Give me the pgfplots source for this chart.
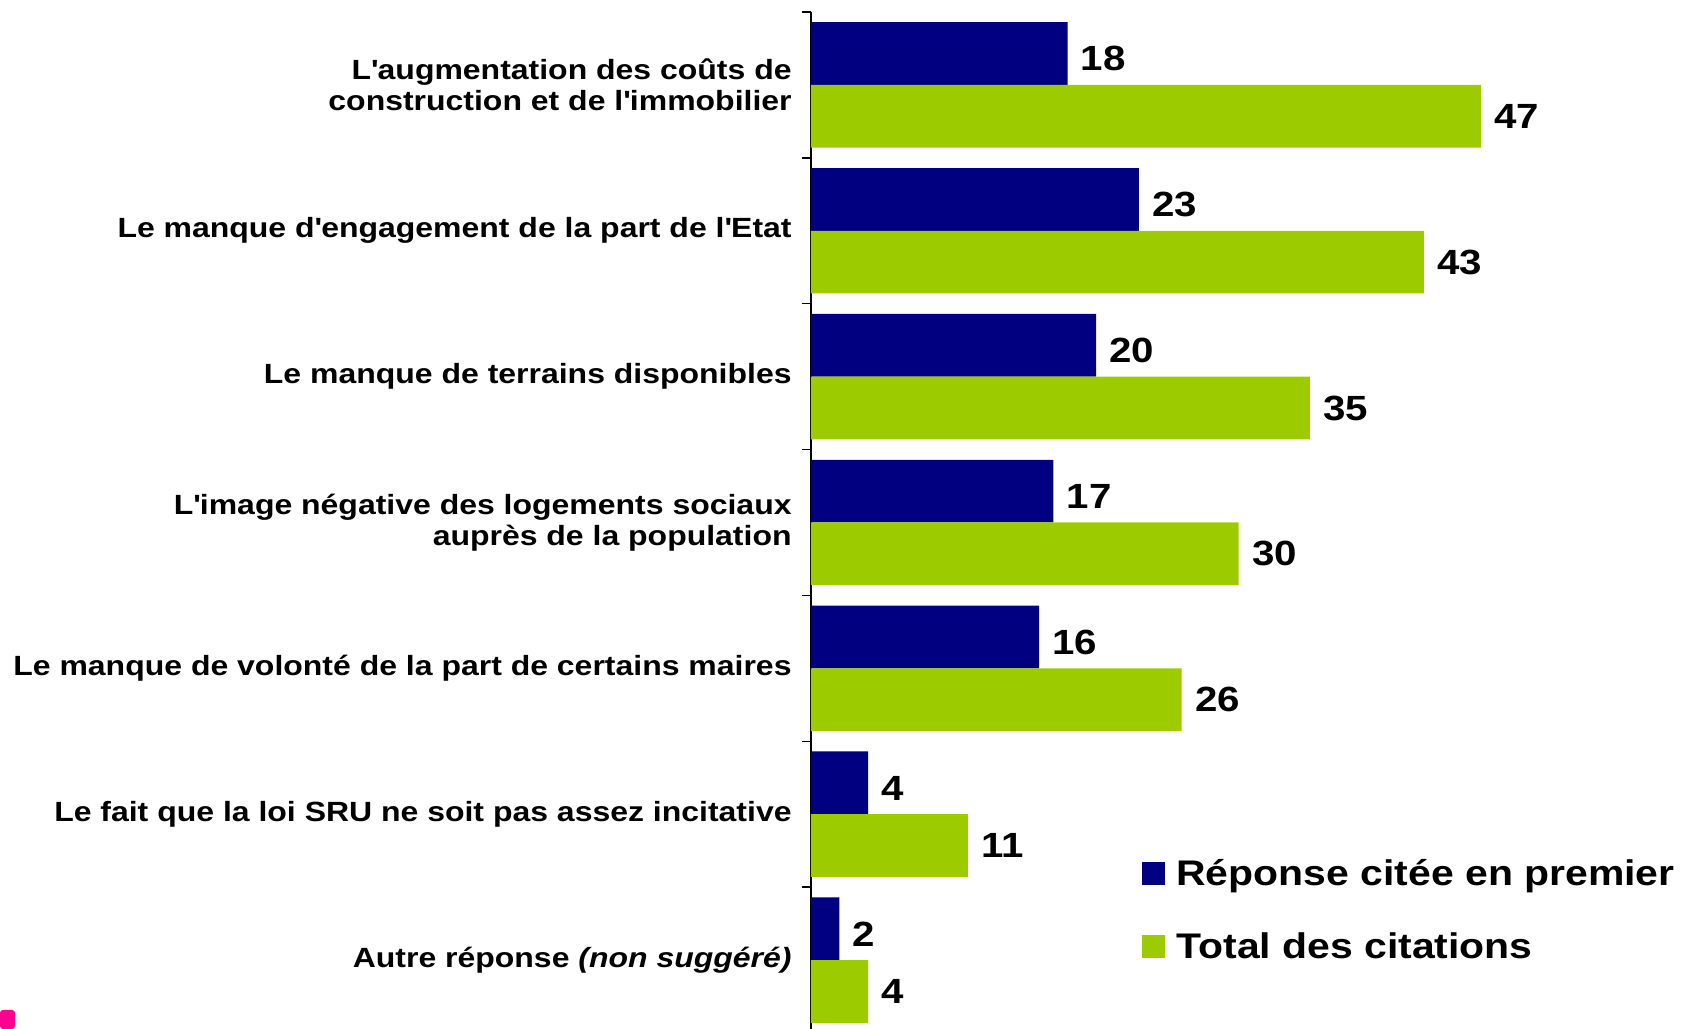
\documentclass[border=0pt]{standalone}
\usepackage{pgfplots}
\pgfplotsset{compat=1.18}
\usepackage{fontspec}
\setmainfont{Liberation Sans}[FakeStretch=1.15]
\definecolor{navy}{RGB}{0,0,128}
\definecolor{lime}{RGB}{156,204,0}
\definecolor{pinky}{RGB}{255,0,144}
\begin{document}
\begin{tikzpicture}
\begin{axis}[
  scale only axis,
  width=435.5pt, height=510.5pt,
  xmin=0, xmax=61.1,
  ymin=-0.5, ymax=6.5,
  y dir=reverse,
  axis x line=none,
  axis y line*=left,
  axis line style={line width=0.7pt, black},
  ytick={0,...,6},
  major tick length=0pt,
  minor ytick={-0.5,0.5,...,6.5},
  minor tick length=4.5pt,
  tick align=outside,
  minor tick style={line width=0.7pt, black},
  yticklabels={
    {L\textquotesingle augmentation des coûts de\\construction et de l\textquotesingle immobilier},
    {Le manque d\textquotesingle engagement de la part de l\textquotesingle Etat},
    {Le manque de terrains disponibles},
    {L\textquotesingle image négative des logements sociaux\\auprès de la population},
    {Le manque de volonté de la part de certains maires},
    {Le fait que la loi SRU ne soit pas assez incitative},
    {Autre réponse \textit{(non suggéré)}}
  },
  yticklabel style={align=right, inner sep=0pt, xshift=-9.5pt,
    font=\fontsize{13.9}{15.5}\selectfont\bfseries},
  /pgf/number format/assume math mode=true,
  point meta=x,
  nodes near coords,
  nodes near coords style={font=\fontsize{17.5}{20}\selectfont\bfseries,
    anchor=west, inner sep=0pt, xshift=6.5pt, black},
  legend style={at={(0.380,0.1690)}, anchor=north west, draw=none, fill=none,
    inner sep=0pt, row sep=23.75pt,
    font=\fontsize{17.8}{20}\selectfont\bfseries,
    nodes={inner sep=0pt, text height=12.5pt, text depth=0pt}},
  legend cell align=left,
  legend image code/.code={\fill[#1] (0pt,-6pt) rectangle (11.5pt,5.5pt); \path (17pt,0pt);},
  clip=false,
]
\addplot[xbar, bar width=0.43, bar shift=-0.215, fill=navy, draw=none,
  every node near coord/.append style={yshift=13pt}]
  coordinates {(18,0) (23,1) (20,2) (17,3) (16,4) (4,5) (2,6)};
\addlegendentry{Réponse citée en premier}
\addplot[xbar, bar width=0.43, bar shift=0.215, fill=lime, draw=none,
  every node near coord/.append style={yshift=-15.7pt}]
  coordinates {(47,0) (43,1) (35,2) (30,3) (26,4) (11,5) (4,6)};
\addlegendentry{Total des citations}
\end{axis}
\pgfresetboundingbox
\path ([shift={(-405.5pt,2pt)}]current axis.south west) rectangle ([shift={(0pt,6pt)}]current axis.north east);
\fill[pinky, rounded corners=1.5pt] ([shift={(-405.5pt,2pt)}]current axis.south west) rectangle ++(7.5pt,9.5pt);
\end{tikzpicture}
\end{document}
